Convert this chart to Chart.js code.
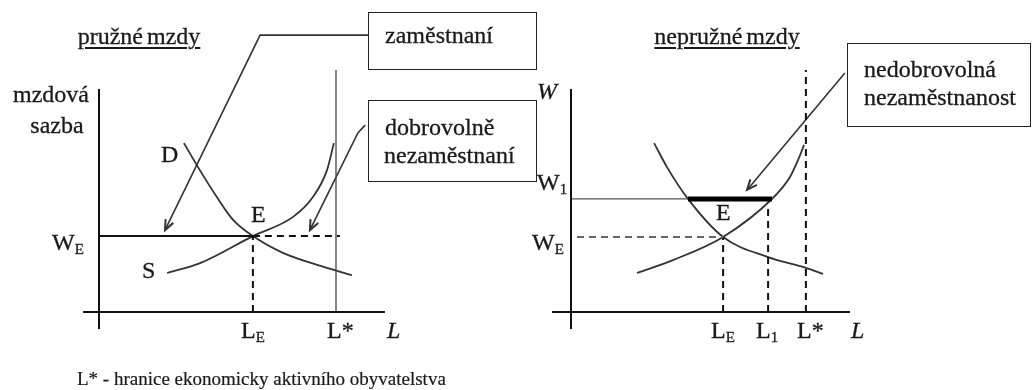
<!DOCTYPE html>
<html>
<head>
<meta charset="utf-8">
<script src="https://cdn.jsdelivr.net/npm/chart.js@4/dist/chart.umd.min.js"></script>
<style>
  body { margin: 0; background: #fff; }
  #wrap { position: relative; width: 1032px; height: 390px; overflow: hidden; background: #fff;
          font-family: "Liberation Serif", "Times New Roman", serif; color: #1a1a1a; }
  canvas { position: absolute; }
  .t { position: absolute; line-height: 0; white-space: nowrap; font-size: 24px;
       -webkit-text-stroke: 0.3px #1a1a1a; }
  .c { transform: translateX(-50%); }
  .i { font-style: italic; }
  .u { text-decoration: underline; text-decoration-thickness: 1.5px; text-underline-offset: 3px; word-spacing: -2px; }
  .s { font-size: 15px; position: relative; top: 4px; }
  .box { position: absolute; box-sizing: border-box; border: 1.5px solid #222; }
</style>
</head>
<body>
<div id="wrap">
  <canvas id="flexChart" width="450" height="330" style="left:69px;top:12px"></canvas>
  <canvas id="rigidChart" width="480" height="330" style="left:541px;top:12px"></canvas>

  <!-- annotation boxes -->
  <div class="box" style="left:368px;top:12px;width:169px;height:58px"></div>
  <div class="box" style="left:368px;top:100px;width:169px;height:82px"></div>
  <div class="box" style="left:847px;top:43px;width:184px;height:84px"></div>

  <!-- left panel text (top = baseline - 8) -->
  <div class="t c u" style="left:139px;top:36px">pružné mzdy</div>
  <div class="t c" style="left:51px;top:94px">mzdová</div>
  <div class="t c" style="left:57px;top:125px">sazba</div>
  <div class="t" style="left:161px;top:154px">D</div>
  <div class="t" style="left:142px;top:270px">S</div>
  <div class="t" style="left:251px;top:214px">E</div>
  <div class="t" style="left:52px;top:242px">W<span class="s">E</span></div>
  <div class="t" style="left:241px;top:330px">L<span class="s">E</span></div>
  <div class="t" style="left:327px;top:330px">L*</div>
  <div class="t i" style="left:387px;top:330px">L</div>
  <div class="t" style="left:385px;top:35px">zaměstnaní</div>
  <div class="t" style="left:385px;top:127px">dobrovolně</div>
  <div class="t" style="left:384px;top:155px">nezaměstnaní</div>
  <div class="t" style="left:77px;top:379px;font-size:19px;-webkit-text-stroke:0.2px #1a1a1a">L* - hranice ekonomicky aktivního obyvatelstva</div>

  <!-- right panel text -->
  <div class="t c u" style="left:727px;top:36px">nepružné mzdy</div>
  <div class="t i" style="left:537px;top:91px">W</div>
  <div class="t" style="left:537px;top:182px">W<span class="s">1</span></div>
  <div class="t" style="left:532px;top:242px">W<span class="s">E</span></div>
  <div class="t" style="left:716px;top:212px">E</div>
  <div class="t" style="left:711px;top:330px">L<span class="s">E</span></div>
  <div class="t" style="left:756px;top:330px">L<span class="s">1</span></div>
  <div class="t" style="left:797px;top:330px">L*</div>
  <div class="t i" style="left:851px;top:330px">L</div>
  <div class="t" style="left:864px;top:69px">nedobrovolná</div>
  <div class="t" style="left:864px;top:97px">nezaměstnanost</div>
</div>

<script>
// ---- flexible wages (left) ----
const flexWE = 2.53;      // equilibrium wage
const flexLE = 5.13;      // equilibrium employment
const flexLStar = 7.9;    // labour force limit
const flexDemandL = [2.83, 3.3, 3.93, 4.47, 5.13, 6.13, 7.27, 8.43];
const flexDemandW = [5.63, 4.83, 3.83, 3.07, 2.53, 1.97, 1.57, 1.23];
const flexSupplyL = [2.27, 3.37, 5.13, 6.47, 7.13, 7.6, 7.83];
const flexSupplyW = [1.3, 1.63, 2.53, 3.17, 3.83, 4.73, 5.63];
const flexArrow1L = [8.97, 5.37, 2.2];
const flexArrow1W = [9.23, 9.23, 2.73];
const flexArrow2L = [8.87, 8.63, 7.03];
const flexArrow2W = [6.23, 5.97, 2.73];

// ---- rigid wages (right) ----
const rigidW1 = 3.77;
const rigidWE = 2.5;
const rigidLE = 5.07;
const rigidL1 = 6.57;
const rigidLStar = 7.83;
const rigidW1OnDemand = 3.9;   // L where W1 meets D
const rigidW1OnSupply = 6.7;   // L where W1 meets S
const rigidDemandL = [2.77, 3.2, 3.9, 5.07, 6.57, 7.83, 8.4];
const rigidDemandW = [5.63, 4.83, 3.77, 2.5, 1.83, 1.47, 1.27];
const rigidSupplyL = [2.2, 3.4, 5.07, 6.73, 7.3, 7.57, 7.77];
const rigidSupplyW = [1.3, 1.73, 2.5, 3.8, 4.5, 5.07, 5.57];
const rigidArrowL = [9.13, 5.87];
const rigidArrowW = [7.97, 4.07];

const toPoints = (xs, ys) => xs.map((x, i) => ({ x, y: ys[i] }));

// small straight segment helper
const seg = (x1, y1, x2, y2, style) => Object.assign({
  data: [{ x: x1, y: y1 }, { x: x2, y: y2 }],
  borderColor: "#111", borderWidth: 2, showLine: true, pointRadius: 0, tension: 0,
}, style);

const curve = (xs, ys) => ({
  data: toPoints(xs, ys),
  borderColor: "#333", borderWidth: 1.8, showLine: true, pointRadius: 0,
  cubicInterpolationMode: "monotone",
});

const arrow = (xs, ys) => ({
  data: toPoints(xs, ys),
  borderColor: "#333", borderWidth: 1.6, showLine: true, pointRadius: 0, tension: 0,
  arrow: true,
});

// draws the arrow heads at the last point of arrow datasets
const arrowHeads = {
  id: "arrowHeads",
  afterDatasetsDraw(chart) {
    const ctx = chart.ctx;
    chart.data.datasets.forEach((ds, i) => {
      if (!ds.arrow) return;
      const pts = chart.getDatasetMeta(i).data;
      const a = pts[pts.length - 2], b = pts[pts.length - 1];
      const ang = Math.atan2(b.y - a.y, b.x - a.x);
      const len = 11;
      ctx.save();
      ctx.strokeStyle = "#333";
      ctx.lineWidth = 2;
      ctx.beginPath();
      ctx.moveTo(b.x - len * Math.cos(ang - 0.4), b.y - len * Math.sin(ang - 0.4));
      ctx.lineTo(b.x, b.y);
      ctx.lineTo(b.x - len * Math.cos(ang + 0.4), b.y - len * Math.sin(ang + 0.4));
      ctx.stroke();
      ctx.restore();
    });
  },
};

const baseOptions = (xMax) => ({
  responsive: false,
  animation: false,
  devicePixelRatio: 1,
  layout: { padding: 0 },
  plugins: { legend: { display: false }, tooltip: { enabled: false } },
  scales: {
    x: { type: "linear", display: false, min: -1, max: xMax },
    y: { type: "linear", display: false, min: -1, max: 10 },
  },
});

const dash = [7, 5];

new Chart(document.getElementById("flexChart"), {
  type: "scatter",
  data: {
    datasets: [
      seg(-0.53, 0, 9.53, 0),
      seg(0, -0.57, 0, 7.43),
      seg(0, flexWE, flexLE, flexWE),
      seg(flexLE, flexWE, 8.03, flexWE, { borderDash: dash }),
      seg(flexLE, 0, flexLE, flexWE, { borderDash: dash }),
      seg(flexLStar, 0, flexLStar, 8.07, { borderWidth: 1.3, borderColor: "#444" }),
      curve(flexDemandL, flexDemandW),
      curve(flexSupplyL, flexSupplyW),
      arrow(flexArrow1L, flexArrow1W),
      arrow(flexArrow2L, flexArrow2W),
    ],
  },
  options: baseOptions(14),
  plugins: [arrowHeads],
});

new Chart(document.getElementById("rigidChart"), {
  type: "scatter",
  data: {
    datasets: [
      seg(-0.63, 0, 9.3, 0),
      seg(0, -0.57, 0, 7.43),
      seg(0, rigidW1, rigidW1OnDemand, rigidW1, { borderWidth: 1.2, borderColor: "#555" }),
      seg(rigidW1OnDemand, rigidW1, rigidW1OnSupply, rigidW1, { borderWidth: 5, borderColor: "#000" }),
      seg(0.2, rigidWE, rigidLE, rigidWE, { borderDash: dash, borderWidth: 2, borderColor: "#666" }),
      seg(rigidLE, 0, rigidLE, rigidWE, { borderDash: dash }),
      seg(rigidL1, 0, rigidL1, 3.6, { borderDash: dash }),
      seg(rigidLStar, 0, rigidLStar, 8.07, { borderDash: dash }),
      curve(rigidDemandL, rigidDemandW),
      curve(rigidSupplyL, rigidSupplyW),
      arrow(rigidArrowL, rigidArrowW),
    ],
  },
  options: baseOptions(15),
  plugins: [arrowHeads],
});
</script>
</body>
</html>
